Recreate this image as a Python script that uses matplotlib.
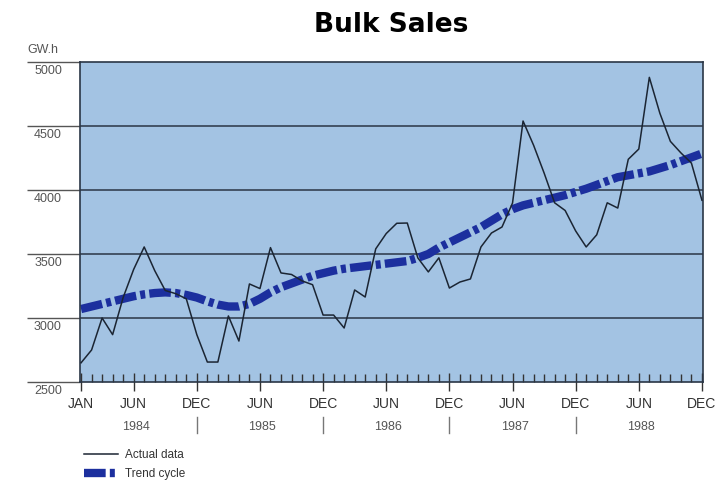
import numpy as np
import matplotlib.pyplot as plt
from matplotlib.transforms import blended_transform_factory, ScaledTranslation

plt.rcParams['font.family'] = ['Liberation Sans', 'DejaVu Sans']

# Bulk sales, monthly, Jan 1984 .. Dec 1988 (GW.h)
actual = [2650, 2750, 3000, 2870, 3160, 3380, 3555, 3370, 3215, 3190, 3150, 2870,   # 1984
          2656, 2656, 3016, 2820, 3266, 3230, 3550, 3352, 3340, 3290, 3260, 3023,   # 1985
          3023, 2922, 3219, 3164, 3540, 3660, 3740, 3742, 3470, 3360, 3470, 3234,   # 1986
          3281, 3305, 3555, 3664, 3711, 3898, 4539, 4350, 4133, 3900, 3840, 3680,   # 1987
          3555, 3650, 3900, 3859, 4240, 4320, 4880, 4600, 4380, 4290, 4210, 3920]   # 1988

trend = [3070, 3090, 3110, 3130, 3150, 3170, 3185, 3195, 3200, 3195, 3180, 3160,
         3130, 3105, 3090, 3090, 3110, 3150, 3200, 3240, 3270, 3300, 3330, 3350,
         3370, 3385, 3395, 3405, 3415, 3425, 3435, 3445, 3470, 3500, 3550, 3590,
         3630, 3670, 3710, 3760, 3810, 3850, 3880, 3900, 3920, 3940, 3960, 3985,
         4010, 4040, 4070, 4100, 4115, 4130, 4145, 4170, 4195, 4225, 4255, 4285]

# x axis labels (month index counted from Jan 1984)
label_months = [0, 5, 11, 17, 23, 29, 35, 41, 47, 53, 59]
label_names = ['JAN', 'JUN', 'DEC', 'JUN', 'DEC', 'JUN', 'DEC', 'JUN', 'DEC', 'JUN', 'DEC']
years = ['1984', '1985', '1986', '1987', '1988']
year_months = [5, 17, 29, 41, 53]
sep_months = [11, 23, 35, 47]
y_ticks = [2500, 3000, 3500, 4000, 4500, 5000]

months = np.arange(len(actual))

fig = plt.figure(figsize=(7.16, 4.86), dpi=100)
ax = fig.add_axes([80 / 716, 1 - 382 / 486, 623 / 716, 320 / 486])
ax.set_facecolor('#a3c3e3')

# horizontal rules
for v in y_ticks[1:-1]:
    ax.axhline(v, color='#2a3646', lw=1.1, zorder=1)

line_actual, = ax.plot(months, actual, color='#1b2533', lw=1.1, zorder=3, label='Actual data')
line_trend, = ax.plot(months, trend, color='#1c2f9e', lw=6, zorder=2, label='Trend cycle',
                      dashes=(2.6, 0.5, 0.6, 0.5), solid_capstyle='butt', dash_capstyle='butt')

ax.set_xlim(-0.1, 59.1)
ax.set_ylim(2500, 5000)

for s in ax.spines.values():
    s.set_color('#2a3646')
    s.set_linewidth(1.2)

# y ticks: long lines running left, labels tucked under them
ax.set_yticks(y_ticks)
ax.set_yticklabels([])
ax.tick_params(axis='y', direction='out', length=38, width=1, color='#555555')
ytrans = blended_transform_factory(ax.transAxes, ax.transData) + \
    ScaledTranslation(0, -2 / 72, fig.dpi_scale_trans)
for v in y_ticks:
    ax.text(-0.029, v, str(v), transform=ytrans, ha='right', va='top',
            fontsize=9, color='#555555')
fig.text(27 / 716, 1 - 50 / 486, 'GW.h', fontsize=9, color='#555555', ha='left', va='center')

# x ticks
ax.set_xticks(label_months)
ax.set_xticklabels(label_names)
ax.set_xticks(months, minor=True)
ax.tick_params(axis='x', which='major', direction='inout', length=13, width=1,
               color='#333333', labelsize=10, labelcolor='#333333', pad=4)
ax.tick_params(axis='x', which='minor', direction='in', length=6, width=1, color='#333333')

xtrans = blended_transform_factory(ax.transData, ax.transAxes)
for m, yr in zip(year_months, years):
    ax.text(m + 0.2, -0.14, yr, transform=xtrans, ha='center', va='center',
            fontsize=9, color='#555555')
for m in sep_months:
    ax.plot([m, m], [-0.11, -0.16], transform=xtrans, color='#777777', lw=1, clip_on=False)

fig.text(391 / 716, 1 - 25 / 486, 'Bulk Sales', fontsize=19, fontweight='heavy',
         family='DejaVu Sans', ha='center', va='center')

leg = ax.legend(handles=[line_actual, line_trend], loc='upper left',
                bbox_to_anchor=(84 / 716, 1 - 449 / 486), bbox_transform=fig.transFigure,
                frameon=False, fontsize=8.5, handlelength=2.9, handletextpad=0.6,
                labelspacing=0.6, borderpad=0, borderaxespad=0)
for t in leg.get_texts():
    t.set_color('#333333')

fig.savefig('out.png', dpi=100)
